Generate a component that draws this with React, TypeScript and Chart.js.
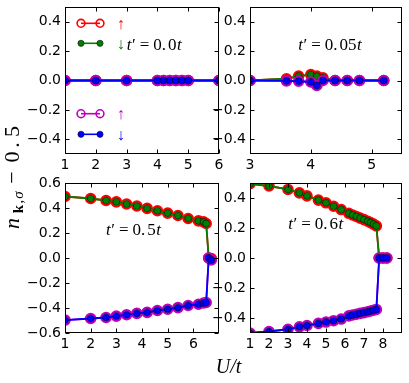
import React, { useEffect, useRef } from 'react';
import Chart from 'chart.js/auto';

// ---------------- data ----------------
// panel 1 : t' = 0.0t
const u1 = [1, 2, 3, 4, 4.2, 4.4, 4.6, 4.8, 5, 6];
const nA1 = [0, 0, 0, 0, 0, 0, 0, 0, 0, 0];
const nB1 = [0, 0, 0, 0, 0, 0, 0, 0, 0, 0];
// panel 2 : t' = 0.05t
const u2 = [3.0, 3.6, 3.8, 4.0, 4.1, 4.2, 4.4, 4.6, 4.8, 5.2];
const nA2 = [0.0, 0.012, 0.03, 0.04, 0.03, 0.018, 0.0, 0.0, 0.0, 0.0];
const nB2 = [0.0, -0.003, -0.005, -0.01, -0.034, 0.0, 0.0, 0.0, 0.0, 0.0];
// panel 3 : t' = 0.5t
const u3 = [1, 2, 2.6, 3, 3.4, 3.8, 4.2, 4.6, 5, 5.4, 5.8, 6.2, 6.4, 6.5, 6.6, 6.7];
const nA3 = [0.492, 0.476, 0.46, 0.449, 0.432, 0.416, 0.397, 0.378, 0.359, 0.34, 0.316, 0.297, 0.289, 0.276, 0.0, -0.005];
const nB3 = [-0.497, -0.484, -0.476, -0.465, -0.454, -0.443, -0.435, -0.42, -0.41, -0.397, -0.38, -0.37, -0.36, -0.356, 0.0, -0.016];
// panel 4 : t' = 0.6t
const u4 = [1, 2, 3, 3.6, 4, 4.6, 5, 5.4, 5.8, 6.2, 6.4, 6.6, 6.8, 7.0, 7.2, 7.35, 7.5, 7.65, 7.8, 8.0, 8.2];
const nA4 = [0.495, 0.48, 0.457, 0.434, 0.414, 0.386, 0.368, 0.345, 0.323, 0.298, 0.287, 0.277, 0.266, 0.256, 0.245, 0.236, 0.226, 0.214, 0.0, 0.0, 0.0];
const nB4 = [-0.5, -0.49, -0.475, -0.459, -0.45, -0.436, -0.427, -0.418, -0.407, -0.386, -0.38, -0.375, -0.369, -0.364, -0.358, -0.353, -0.348, -0.343, 0.0, 0.0, 0.0];

// tick labels
const xt1 = [1, 2, 3, 4, 5, 6];
const yt1 = [-0.4, -0.2, 0, 0.2, 0.4];
const xt2 = [3, 4, 5];
const yt2 = [-0.4, -0.2, 0, 0.2, 0.4];
const xt3 = [1, 2, 3, 4, 5, 6];
const yt3 = [-0.6, -0.4, -0.2, 0, 0.2, 0.4, 0.6];
const xt4 = [1, 2, 3, 4, 5, 6, 7, 8];
const yt4 = [-0.4, -0.2, 0, 0.2, 0.4];

// axis ranges
const xr1 = [1, 6];
const xr2 = [3, 5.5];
const xr3 = [1, 7];
const xr4 = [1, 9];
const yr1 = [-0.5, 0.5];
const yr2 = [-0.5, 0.5];
const yr3 = [-0.6, 0.6];
const yr4 = [-0.5, 0.5];

// annotation values (t' / t)
const tPrimes = ['0.0', '0.05', '0.5', '0.6'];
const legendArrows = ['\u2191', '\u2193', '\u2191', '\u2193'];

// ---------------- style / layout ----------------
const W = 409;
const H = 383;
const AXW = 60;
const AXH = 30;
const RED = '#ff0000';
const GREEN = '#008000';
const MAGENTA = '#bf00bf';
const BLUE = '#0000ff';
const SERIF = '"Liberation Serif", "DejaVu Serif", serif';
const SANS = '"DejaVu Sans", sans-serif';

type Panel = {
  u: number[]; a: number[]; b: number[];
  xr: number[]; yr: number[]; xt: number[]; yt: number[];
  box: number[]; ann: number[]; tp: string;
};

const PANELS: Panel[] = [
  { u: u1, a: nA1, b: nB1, xr: xr1, yr: yr1, xt: xt1, yt: yt1, box: [65, 5, 219, 154], ann: [126.7, 50], tp: tPrimes[0] },
  { u: u2, a: nA2, b: nB2, xr: xr2, yr: yr2, xt: xt2, yt: yt2, box: [250, 5, 404, 154], ann: [298.3, 50], tp: tPrimes[1] },
  { u: u3, a: nA3, b: nB3, xr: xr3, yr: yr3, xt: xt3, yt: yt3, box: [65, 183, 219, 333], ann: [106, 235], tp: tPrimes[2] },
  { u: u4, a: nA4, b: nB4, xr: xr4, yr: yr4, xt: xt4, yt: yt4, box: [250, 183, 404, 333], ann: [288.3, 229], tp: tPrimes[3] },
];

function drawTprime(ctx: CanvasRenderingContext2D, x: number, base: number, val: string) {
  const it = `italic 17px ${SERIF}`;
  const rm = `17px ${SERIF}`;
  let cx = x;
  ctx.fillStyle = '#000';
  ctx.textAlign = 'left';
  ctx.textBaseline = 'alphabetic';
  const put = (s: string, f: string, gap = 0) => {
    ctx.font = f;
    ctx.fillText(s, cx, base);
    cx += ctx.measureText(s).width + gap;
  };
  const [ip, fp] = val.split('.');
  put('t', it, 0.5);
  put('\u2032', rm, 4);
  put('=', rm, 4);
  put(ip + '.', rm, 2);
  put(fp, rm, 0.5);
  put('t', it);
}

function ring(ctx: CanvasRenderingContext2D, x: number, y: number, c: string) {
  ctx.beginPath();
  ctx.arc(x, y, 3.9, 0, Math.PI * 2);
  ctx.lineWidth = 1.6;
  ctx.strokeStyle = c;
  ctx.stroke();
}
function dot(ctx: CanvasRenderingContext2D, x: number, y: number, c: string) {
  ctx.beginPath();
  ctx.arc(x, y, 3.1, 0, Math.PI * 2);
  ctx.fillStyle = c;
  ctx.fill();
  ctx.lineWidth = 0.7;
  ctx.strokeStyle = 'rgba(0,0,0,0.8)';
  ctx.stroke();
}

function makeChart(canvas: HTMLCanvasElement, p: Panel, idx: number) {
  const [L, T, R, B] = p.box;
  const pts = (ys: number[]) => p.u.map((x, i) => ({ x, y: ys[i] }));
  const ringDs = (c: string, ys: number[], order: number) => ({
    data: pts(ys), borderColor: c, borderWidth: 1.8, pointRadius: 4.6, pointHoverRadius: 4.6,
    pointBorderWidth: 2.4, pointBorderColor: c, pointBackgroundColor: 'rgba(0,0,0,0)',
    clip: 0, order, tension: 0, fill: false,
  });
  const dotDs = (c: string, ys: number[], order: number) => ({
    data: pts(ys), borderColor: c, borderWidth: 1.8, pointRadius: 3.5, pointHoverRadius: 3.5,
    pointBorderWidth: 0.7, pointBorderColor: 'rgba(0,0,0,0.8)', pointBackgroundColor: c,
    clip: 0, order, tension: 0, fill: false,
  });

  const framePlugin = {
    id: 'frame' + idx,
    afterDatasetsDraw(chart: any) {
      const ctx: CanvasRenderingContext2D = chart.ctx;
      const ca = chart.chartArea;
      const xs = chart.scales.x;
      const ys = chart.scales.y;
      ctx.save();
      ctx.strokeStyle = '#000';
      ctx.lineWidth = 1;
      const l = Math.round(ca.left) + 0.5, r = Math.round(ca.right) - 0.5;
      const t = Math.round(ca.top) + 0.5, b = Math.round(ca.bottom) - 0.5;
      ctx.strokeRect(l, t, r - l, b - t);
      ctx.beginPath();
      p.xt.forEach((v) => {
        const px = Math.round(xs.getPixelForValue(v)) + 0.5;
        ctx.moveTo(px, b); ctx.lineTo(px, b - 4);
        ctx.moveTo(px, t); ctx.lineTo(px, t + 4);
      });
      p.yt.forEach((v) => {
        const py = Math.round(ys.getPixelForValue(v)) + 0.5;
        ctx.moveTo(l, py); ctx.lineTo(l + 4, py);
        ctx.moveTo(r, py); ctx.lineTo(r - 4, py);
      });
      ctx.stroke();

      if (idx === 0) {
        const rows: [string, boolean, number][] = [
          [RED, true, 23.3], [GREEN, false, 43.3], [MAGENTA, true, 113.7], [BLUE, false, 134.3],
        ];
        rows.forEach(([c, isRing, y], i) => {
          ctx.beginPath();
          ctx.moveTo(81, y); ctx.lineTo(100, y);
          ctx.lineWidth = 1.6; ctx.strokeStyle = c; ctx.stroke();
          if (isRing) { ring(ctx, 81, y, c); ring(ctx, 100, y, c); }
          else { dot(ctx, 81, y, c); dot(ctx, 100, y, c); }
          ctx.fillStyle = c;
          ctx.font = `16px ${SERIF}`;
          ctx.textAlign = 'center';
          ctx.textBaseline = 'middle';
          ctx.fillText(legendArrows[i], 120.7, y + 1);
        });
      }

      drawTprime(ctx, p.ann[0], p.ann[1], p.tp);

      if (idx === 2) {
        // x label
        ctx.fillStyle = '#000';
        ctx.font = `italic 20px ${SERIF}`;
        ctx.textAlign = 'center';
        ctx.textBaseline = 'alphabetic';
        ctx.fillText('U/t', 228.5, 373);
        // y label
        ctx.save();
        ctx.translate(19, 230);
        ctx.rotate(-Math.PI / 2);
        const main = `22px ${SERIF}`;
        const pieces: [string, string, number, number][] = [
          ['n', `italic 22px ${SERIF}`, 6.5, 0],
          ['k', `bold 15px ${SERIF}`, 21, 4],
          [',', `15px ${SERIF}`, 28.5, 4],
          ['\u03c3', `italic 15px ${SERIF}`, 35, 4],
          ['\u2212', main, 52.5, 0],
          ['0', main, 73, 0],
          ['.', main, 85, 0],
          ['5', main, 98.5, 0],
        ];
        ctx.textAlign = 'center';
        pieces.forEach(([s, f, x, y]) => { ctx.font = f; ctx.fillText(s, x, y); });
        ctx.restore();
      }
      ctx.restore();
    },
  };

  const yFmt = (v: any) => Number(v).toFixed(1).replace('-', '\u2212');

  return new Chart(canvas, {
    type: 'line',
    data: {
      datasets: [
        ringDs(RED, p.a, 3),
        dotDs(GREEN, p.a, 2),
        ringDs(MAGENTA, p.b, 1),
        dotDs(BLUE, p.b, 0),
      ] as any,
    },
    options: {
      animation: false,
      responsive: false,
      devicePixelRatio: 1,
      events: [],
      layout: { padding: { left: L - AXW, top: T, right: W - R, bottom: H - B - AXH } },
      plugins: { legend: { display: false }, tooltip: { enabled: false } },
      scales: {
        x: {
          type: 'linear', min: p.xr[0], max: p.xr[1],
          grid: { display: false, drawTicks: false }, border: { display: false },
          ticks: {
            color: '#000', font: { family: SANS, size: 14 }, padding: 3,
            autoSkip: false, maxRotation: 0, minRotation: 0,
            callback: (v: any) => String(v),
          },
          afterBuildTicks: (s: any) => { s.ticks = p.xt.map((v) => ({ value: v })); },
          afterFit: (s: any) => {
            s.height = AXH; s.paddingLeft = 0; s.paddingRight = 0; s.paddingTop = 0; s.paddingBottom = 0;
          },
        },
        y: {
          type: 'linear', min: p.yr[0], max: p.yr[1],
          grid: { display: false, drawTicks: false }, border: { display: false },
          ticks: {
            color: '#000', font: { family: SANS, size: 14 }, padding: 4,
            autoSkip: false, callback: yFmt,
          },
          afterBuildTicks: (s: any) => { s.ticks = p.yt.map((v) => ({ value: v })); },
          afterFit: (s: any) => {
            s.width = AXW; s.paddingLeft = 0; s.paddingRight = 0; s.paddingTop = 0; s.paddingBottom = 0;
          },
        },
      },
    } as any,
    plugins: [framePlugin],
  });
}

export default function App() {
  const r0 = useRef<HTMLCanvasElement>(null);
  const r1 = useRef<HTMLCanvasElement>(null);
  const r2 = useRef<HTMLCanvasElement>(null);
  const r3 = useRef<HTMLCanvasElement>(null);
  const refs = [r0, r1, r2, r3];
  useEffect(() => {
    const charts = PANELS.map((p, i) => makeChart(refs[i].current as HTMLCanvasElement, p, i));
    return () => charts.forEach((c) => c.destroy());
  }, []);
  return (
    <div style={{ position: 'absolute', left: 0, top: 0, width: W, height: H, background: '#fff' }}>
      {PANELS.map((p, i) => (
        <canvas key={i} ref={refs[i]} width={W} height={H}
          style={{ position: 'absolute', left: 0, top: 0, width: W, height: H }} />
      ))}
    </div>
  );
}
